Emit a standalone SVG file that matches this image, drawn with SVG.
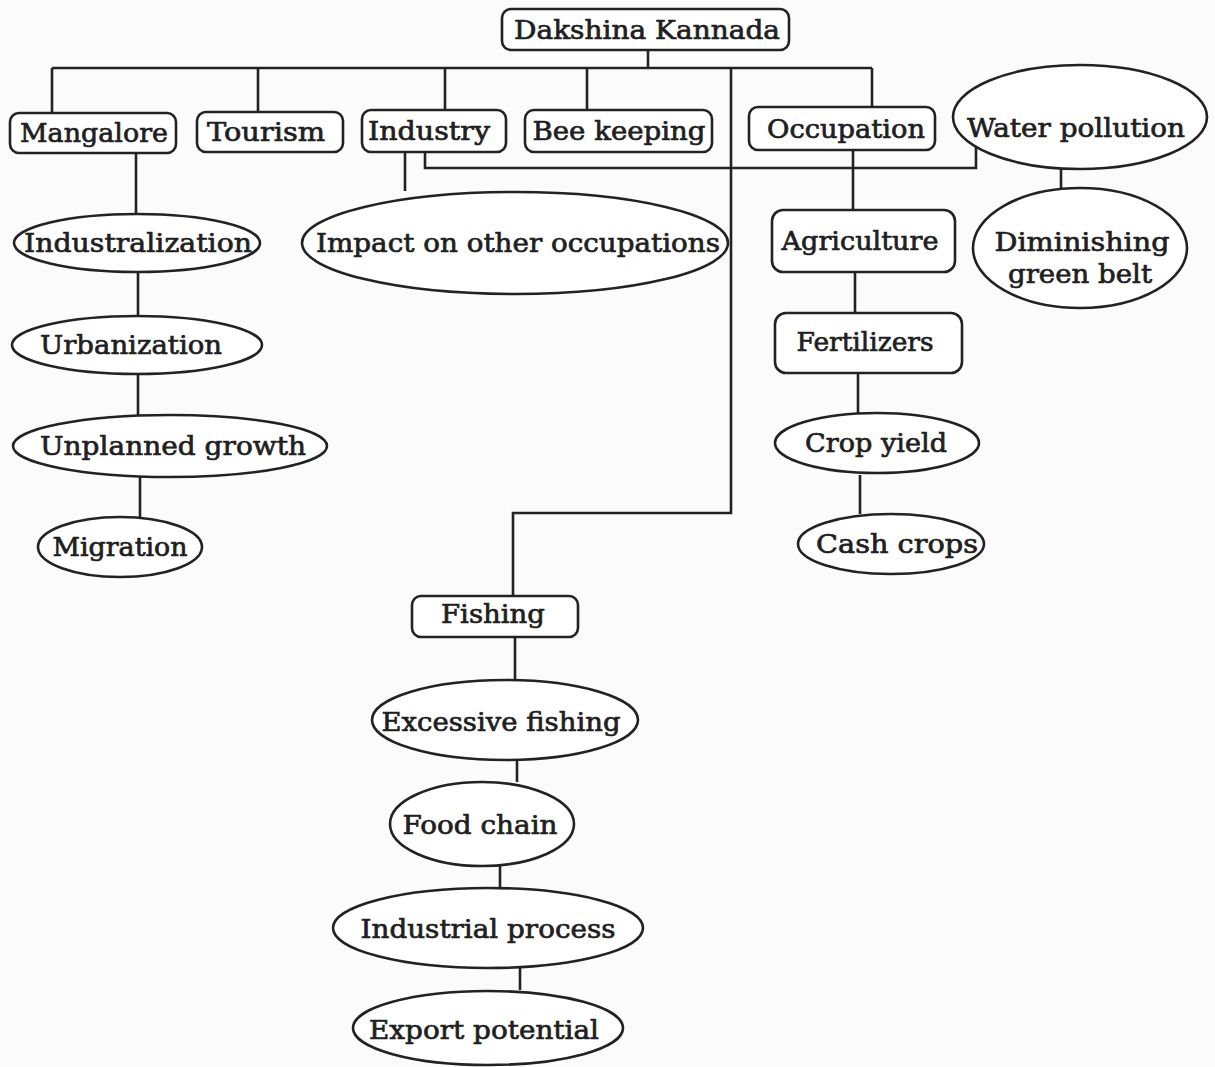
<svg xmlns="http://www.w3.org/2000/svg" width="1215" height="1067" viewBox="0 0 1215 1067">
  <style>
    .box { fill: #ffffff; stroke: #222; stroke-width: 2.6; }
    .ell { fill: #ffffff; stroke: #222; stroke-width: 2.6; }
    .wire { fill: none; stroke: #222; stroke-width: 2.6; stroke-linejoin: miter; }
    text { font-family: "DejaVu Serif", "Liberation Serif", serif; font-size: 26px; fill: #1f1f1f; stroke: #1f1f1f; stroke-width: 0.7; text-anchor: middle; }
  </style>
  <rect width="1215" height="1067" fill="#fbfbfb"/>

  <!-- connectors -->
  <g id="connectors" class="wire">
    <path d="M648 50 V68"/>
    <path d="M52 68 H872"/>
    <path d="M52 68 V113"/>
    <path d="M258 68 V112"/>
    <path d="M445 68 V110"/>
    <path d="M587 68 V110"/>
    <path d="M872 68 V107"/>
    <path d="M731 68 V513 H513 V597"/>
    <path d="M405 152 V191"/>
    <path d="M425 152 V168 H976 V147"/>
    <path d="M136 153 V214"/>
    <path d="M138 272 V316"/>
    <path d="M138 375 V415"/>
    <path d="M140 477 V517"/>
    <path d="M853 150 V210"/>
    <path d="M855 272 V313"/>
    <path d="M858 373 V413"/>
    <path d="M860 475 V514"/>
    <path d="M1061 168 V188"/>
    <path d="M515 637 V680"/>
    <path d="M517 760 V782"/>
    <path d="M500 866 V888"/>
    <path d="M520 968 V990"/>
  </g>

  <g id="dakshina-kannada">
    <rect class="box" x="502" y="9" width="287" height="41" rx="9"/>
    <text x="647" y="39" textLength="266" lengthAdjust="spacingAndGlyphs">Dakshina Kannada</text>
  </g>
  <g id="mangalore">
    <rect class="box" x="10" y="113" width="166" height="40" rx="9"/>
    <text x="94" y="142" textLength="148" lengthAdjust="spacingAndGlyphs">Mangalore</text>
  </g>
  <g id="tourism">
    <rect class="box" x="197" y="112" width="146" height="40" rx="9"/>
    <text x="266" y="141" textLength="118" lengthAdjust="spacingAndGlyphs">Tourism</text>
  </g>
  <g id="industry">
    <rect class="box" x="362" y="110" width="144" height="42" rx="9"/>
    <text x="429" y="140" textLength="122" lengthAdjust="spacingAndGlyphs">Industry</text>
  </g>
  <g id="bee-keeping">
    <rect class="box" x="525" y="110" width="187" height="42" rx="9"/>
    <text x="619" y="140" textLength="173" lengthAdjust="spacingAndGlyphs">Bee keeping</text>
  </g>
  <g id="occupation">
    <rect class="box" x="749" y="107" width="186" height="43" rx="9"/>
    <text x="846" y="138" textLength="158" lengthAdjust="spacingAndGlyphs">Occupation</text>
  </g>
  <g id="water-pollution">
    <ellipse class="ell" cx="1080" cy="117" rx="127" ry="52"/>
    <text x="1076" y="137" textLength="218" lengthAdjust="spacingAndGlyphs">Water pollution</text>
  </g>
  <g id="diminishing-green-belt">
    <ellipse class="ell" cx="1080" cy="248" rx="107" ry="60"/>
    <text x="1082" y="251" textLength="175" lengthAdjust="spacingAndGlyphs">Diminishing</text>
    <text x="1080" y="283" textLength="144" lengthAdjust="spacingAndGlyphs">green belt</text>
  </g>
  <g id="impact-on-other-occupations">
    <ellipse class="ell" cx="515" cy="243" rx="213" ry="51"/>
    <text x="518" y="252" textLength="404" lengthAdjust="spacingAndGlyphs">Impact on other occupations</text>
  </g>
  <g id="industralization">
    <ellipse class="ell" cx="137" cy="243" rx="123" ry="29"/>
    <text x="138" y="252" textLength="228" lengthAdjust="spacingAndGlyphs">Industralization</text>
  </g>
  <g id="urbanization">
    <ellipse class="ell" cx="137" cy="345" rx="125" ry="29"/>
    <text x="131" y="354" textLength="182" lengthAdjust="spacingAndGlyphs">Urbanization</text>
  </g>
  <g id="unplanned-growth">
    <ellipse class="ell" cx="170" cy="446" rx="157" ry="31"/>
    <text x="173" y="455" textLength="266" lengthAdjust="spacingAndGlyphs">Unplanned growth</text>
  </g>
  <g id="migration">
    <ellipse class="ell" cx="120" cy="547" rx="82" ry="30"/>
    <text x="120" y="556" textLength="135" lengthAdjust="spacingAndGlyphs">Migration</text>
  </g>
  <g id="agriculture">
    <rect class="box" x="772" y="210" width="183" height="62" rx="11"/>
    <text x="860" y="250" textLength="157" lengthAdjust="spacingAndGlyphs">Agriculture</text>
  </g>
  <g id="fertilizers">
    <rect class="box" x="775" y="313" width="187" height="60" rx="11"/>
    <text x="865" y="351" textLength="137" lengthAdjust="spacingAndGlyphs">Fertilizers</text>
  </g>
  <g id="crop-yield">
    <ellipse class="ell" cx="877" cy="443" rx="102" ry="30"/>
    <text x="876" y="452" textLength="142" lengthAdjust="spacingAndGlyphs">Crop yield</text>
  </g>
  <g id="cash-crops">
    <ellipse class="ell" cx="891" cy="544" rx="93" ry="30"/>
    <text x="897" y="553" textLength="162" lengthAdjust="spacingAndGlyphs">Cash crops</text>
  </g>
  <g id="fishing">
    <rect class="box" x="412" y="596" width="166" height="41" rx="9"/>
    <text x="493" y="623" textLength="104" lengthAdjust="spacingAndGlyphs">Fishing</text>
  </g>
  <g id="excessive-fishing">
    <ellipse class="ell" cx="505" cy="720" rx="133" ry="40"/>
    <text x="501" y="731" textLength="239" lengthAdjust="spacingAndGlyphs">Excessive fishing</text>
  </g>
  <g id="food-chain">
    <ellipse class="ell" cx="482" cy="824" rx="92" ry="42"/>
    <text x="480" y="834" textLength="155" lengthAdjust="spacingAndGlyphs">Food chain</text>
  </g>
  <g id="industrial-process">
    <ellipse class="ell" cx="488" cy="928" rx="155" ry="40"/>
    <text x="488" y="938" textLength="255" lengthAdjust="spacingAndGlyphs">Industrial process</text>
  </g>
  <g id="export-potential">
    <ellipse class="ell" cx="488" cy="1028" rx="135" ry="37"/>
    <text x="484" y="1039" textLength="230" lengthAdjust="spacingAndGlyphs">Export potential</text>
  </g>
</svg>
